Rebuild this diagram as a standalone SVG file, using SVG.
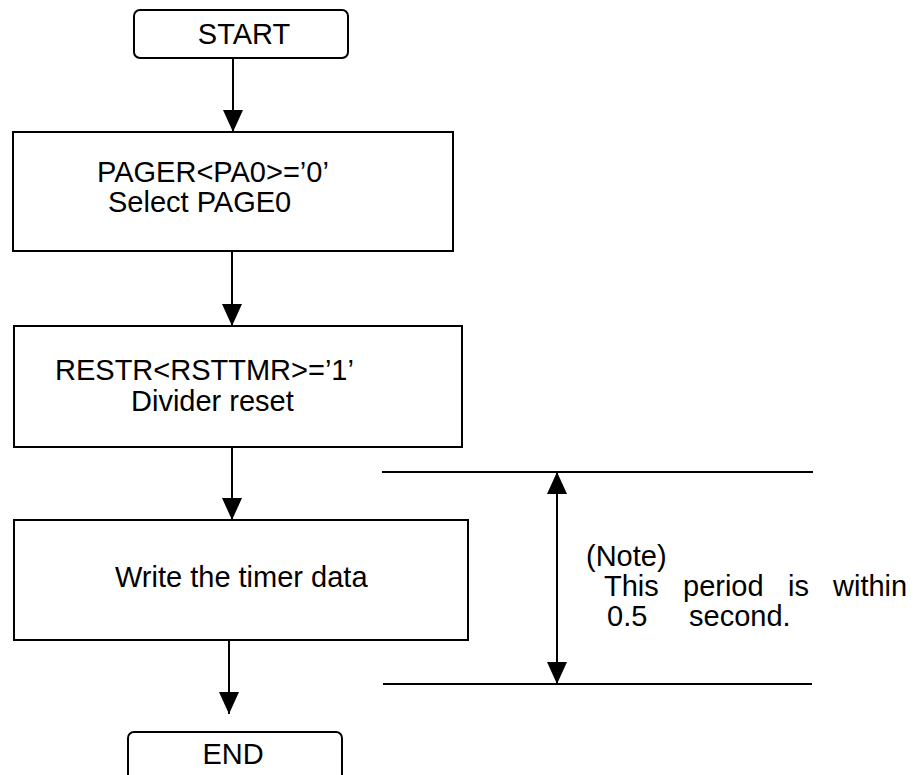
<svg xmlns="http://www.w3.org/2000/svg" width="920" height="775" viewBox="0 0 920 775">
<style>
.box{fill:#fff;stroke:#000;stroke-width:2}
.ln{stroke:#000;stroke-width:2;fill:none}
.t{font-family:"Liberation Sans",Arial,sans-serif;font-size:29px;fill:#000}
.c{text-anchor:middle}
</style>
<defs>
<marker id="ahv" viewBox="0 0 22 20" refX="22" refY="10" markerWidth="22" markerHeight="20" markerUnits="userSpaceOnUse" orient="auto-start-reverse">
<path d="M0,0 L22,10 L0,20 Z" fill="#000"/>
</marker>
</defs>
<rect width="920" height="775" fill="#fff"/>
<g id="connectors">
<line class="ln" x1="233" y1="58" x2="233" y2="132" marker-end="url(#ahv)"/>
<line class="ln" x1="232" y1="251" x2="232" y2="326" marker-end="url(#ahv)"/>
<line class="ln" x1="232" y1="447" x2="232" y2="520" marker-end="url(#ahv)"/>
<line class="ln" x1="229" y1="640" x2="229" y2="714" marker-end="url(#ahv)"/>
</g>
<g id="start">
<rect class="box" x="134" y="10" width="214" height="48" rx="6"/>
<text class="t c" x="244" y="44">START</text>
</g>
<g id="page-select">
<rect class="box" x="13" y="132" width="440" height="119"/>
<text class="t" x="97" y="182">PAGER&lt;PA0&gt;=’0’</text>
<text class="t" x="108" y="212">Select PAGE0</text>
</g>
<g id="divider-reset">
<rect class="box" x="14" y="326" width="448" height="121"/>
<text class="t" x="55" y="380">RESTR&lt;RSTTMR&gt;=’1’</text>
<text class="t" x="131" y="411">Divider reset</text>
</g>
<g id="write-timer">
<rect class="box" x="14" y="520" width="454" height="120"/>
<text class="t" x="115" y="587">Write the timer data</text>
</g>
<g id="end">
<rect class="box" x="128" y="732" width="214" height="50" rx="6"/>
<text class="t c" x="233" y="764">END</text>
</g>
<g id="note">
<line class="ln" x1="382" y1="472" x2="813" y2="472"/>
<line class="ln" x1="383" y1="684" x2="812" y2="684"/>
<line class="ln" x1="557" y1="472" x2="557" y2="684" marker-start="url(#ahv)" marker-end="url(#ahv)"/>
<text class="t" x="586" y="566">(Note)</text>
<text class="t" y="596"><tspan x="604">This</tspan><tspan x="683">period</tspan><tspan x="788">is</tspan><tspan x="833">within</tspan></text>
<text class="t" y="626"><tspan x="607">0.5</tspan><tspan x="689">second.</tspan></text>
</g>
</svg>
